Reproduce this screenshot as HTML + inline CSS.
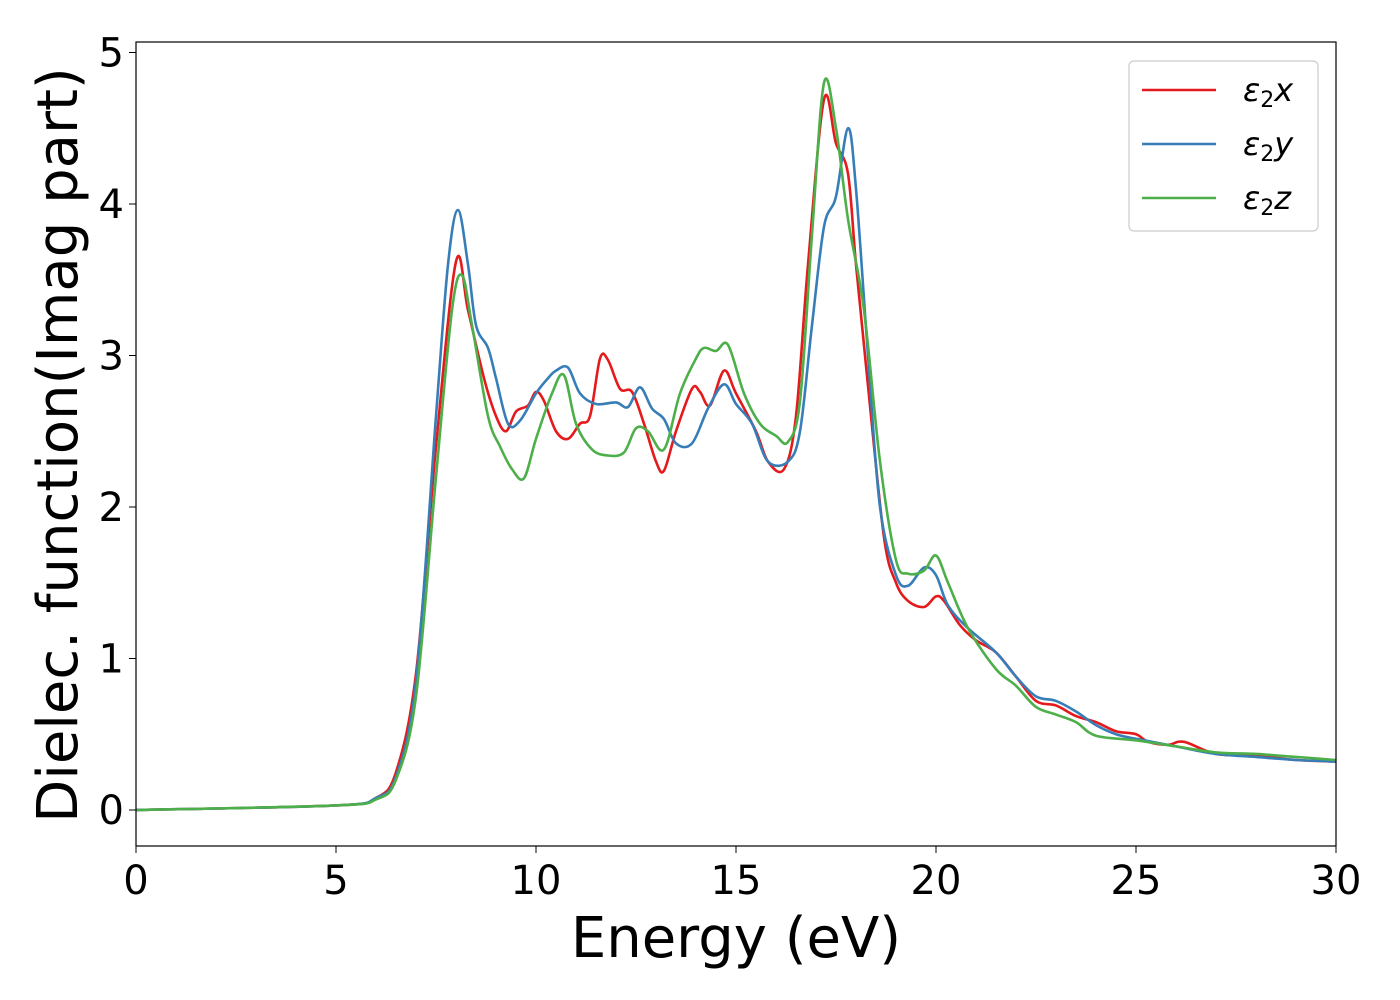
<!DOCTYPE html>
<html><head><meta charset="utf-8"><style>body{margin:0;background:#fff}svg{display:block}text{font-family:"DejaVu Sans","Liberation Sans",sans-serif}</style></head>
<body>
<svg id="chart" width="1400" height="1000" viewBox="0 0 1400 1000" xmlns="http://www.w3.org/2000/svg">
<rect width="1400" height="1000" fill="#fff"/>
<g id="plot"></g>
<rect x="136" y="42" width="1200" height="804" fill="none" stroke="#000" stroke-width="1.2"/>
<g id="ticks"></g>
<text x="736" y="957" font-size="56" text-anchor="middle">Energy (eV)</text>
<text transform="translate(77,445) rotate(-90)" font-size="56" text-anchor="middle">Dielec. function(Imag part)</text>
<g>
<rect x="1129" y="61" width="189" height="170" rx="5" fill="#fff" stroke="#ccc" stroke-width="1.2"/>
<line x1="1142" y1="90" x2="1216" y2="90" stroke="#e41a1c" stroke-width="2.6"/>
<text x="1243" y="101" font-size="32" font-style="italic">ε<tspan font-size="22" dy="6" font-style="normal">2</tspan><tspan dy="-6">x</tspan></text>
<line x1="1142" y1="144" x2="1216" y2="144" stroke="#377eb8" stroke-width="2.6"/>
<text x="1243" y="155" font-size="32" font-style="italic">ε<tspan font-size="22" dy="6" font-style="normal">2</tspan><tspan dy="-6">y</tspan></text>
<line x1="1142" y1="198" x2="1216" y2="198" stroke="#4daf4a" stroke-width="2.6"/>
<text x="1243" y="209" font-size="32" font-style="italic">ε<tspan font-size="22" dy="6" font-style="normal">2</tspan><tspan dy="-6">z</tspan></text>
</g>
</svg>
<script>
const xTicks=[0,5,10,15,20,25,30];
const yTicks=[0,1,2,3,4,5];
const redE=[0,5,6,6.5,7,7.5,8,8.3,8.7,9,9.25,9.5,9.8,10,10.2,10.5,10.8,11.1,11.35,11.6,11.8,12.1,12.4,12.7,13,13.2,13.5,13.9,14.1,14.35,14.7,15,15.5,15.8,16.2,16.5,16.8,17.2,17.5,17.8,18,18.3,18.7,19,19.3,19.7,20,20.2,20.6,21,21.5,22,22.5,23,23.5,24,24.5,25,25.3,25.8,26.2,27,28,29,30];
const redV=[0,0.03,0.08,0.25,0.9,2.4,3.62,3.3,2.85,2.6,2.5,2.63,2.67,2.76,2.7,2.5,2.45,2.55,2.6,2.98,2.97,2.78,2.76,2.55,2.3,2.24,2.5,2.78,2.76,2.67,2.9,2.75,2.5,2.3,2.25,2.6,3.6,4.69,4.4,4.2,3.6,2.8,1.8,1.5,1.38,1.34,1.41,1.38,1.22,1.12,1.04,0.88,0.72,0.69,0.62,0.58,0.52,0.5,0.45,0.43,0.45,0.37,0.36,0.33,0.32];
const blueE=[0,5,6,6.5,7,7.5,7.8,8.05,8.3,8.5,8.8,9,9.3,9.6,10,10.3,10.5,10.8,11.1,11.5,12,12.3,12.6,12.9,13.2,13.5,13.9,14.3,14.7,15,15.4,15.8,16.3,16.6,16.9,17.2,17.5,17.8,18,18.3,18.6,19,19.3,19.7,20,20.3,20.8,21.5,22,22.5,23,23.5,24,24.5,25,26,27,28,29,30];
const blueV=[0,0.03,0.08,0.22,0.85,2.6,3.6,3.96,3.6,3.2,3.05,2.85,2.55,2.57,2.75,2.85,2.9,2.92,2.75,2.68,2.69,2.66,2.79,2.65,2.58,2.42,2.42,2.65,2.81,2.68,2.55,2.3,2.3,2.5,3.2,3.85,4.05,4.5,4.1,3.0,2.0,1.55,1.48,1.6,1.55,1.35,1.2,1.04,0.88,0.75,0.72,0.65,0.56,0.5,0.47,0.42,0.37,0.35,0.33,0.32];
const greenE=[0,5,6,6.5,7,7.5,7.9,8.15,8.4,8.8,9.1,9.4,9.7,10,10.4,10.7,11,11.4,11.8,12.2,12.5,12.8,13.2,13.6,14,14.2,14.5,14.8,15.2,15.6,16,16.3,16.6,16.9,17.2,17.5,17.8,18.2,18.6,19,19.3,19.7,20,20.3,20.8,21.5,22,22.5,23,23.5,24,25,26,27,28,29,30];
const greenV=[0,0.03,0.07,0.2,0.75,2.2,3.3,3.53,3.2,2.6,2.4,2.25,2.19,2.45,2.75,2.87,2.55,2.38,2.34,2.36,2.52,2.5,2.38,2.75,2.98,3.05,3.03,3.07,2.75,2.55,2.47,2.43,2.7,3.8,4.8,4.5,3.9,3.3,2.3,1.65,1.56,1.58,1.68,1.5,1.2,0.93,0.82,0.68,0.63,0.58,0.49,0.46,0.42,0.38,0.37,0.35,0.33];
const sx=e=>136+e*40;
const sy=v=>810-v*151.5;
const NS="http://www.w3.org/2000/svg";
function pathFor(E,V){
  const p=E.map((e,i)=>[sx(e),sy(V[i])]);
  let d="M"+p[0][0]+","+p[0][1];
  for(let i=0;i<p.length-1;i++){
    const a=p[i-1]||p[i],b=p[i],c=p[i+1],n=p[i+2]||c;
    const c1=[b[0]+(c[0]-a[0])/6,b[1]+(c[1]-a[1])/6];
    const c2=[c[0]-(n[0]-b[0])/6,c[1]-(n[1]-b[1])/6];
    d+=" C"+c1+" "+c2+" "+c;
  }
  return d;
}
const plot=document.getElementById("plot");
[[redE,redV,"#e41a1c","series-e2x"],[blueE,blueV,"#377eb8","series-e2y"],[greenE,greenV,"#4daf4a","series-e2z"]].forEach(s=>{
  const el=document.createElementNS(NS,"path");
  el.setAttribute("d",pathFor(s[0],s[1]));
  el.setAttribute("fill","none");el.setAttribute("stroke",s[2]);el.setAttribute("stroke-width","2.6");
  
  
  plot.appendChild(el);
});
const tg=document.getElementById("ticks");
xTicks.forEach(t=>{
  const l=document.createElementNS(NS,"line");
  l.setAttribute("x1",sx(t));l.setAttribute("x2",sx(t));l.setAttribute("y1",846);l.setAttribute("y2",853);l.setAttribute("stroke","#000");
  
  
  tg.appendChild(l);
  const tx=document.createElementNS(NS,"text");
  tx.setAttribute("x",sx(t));tx.setAttribute("y",894);tx.setAttribute("font-size","40");tx.setAttribute("text-anchor","middle");
  tx.textContent=t;
  
  
  tg.appendChild(tx);
});
yTicks.forEach(t=>{
  const l=document.createElementNS(NS,"line");
  l.setAttribute("x1",129);l.setAttribute("x2",136);l.setAttribute("y1",sy(t));l.setAttribute("y2",sy(t));l.setAttribute("stroke","#000");
  
  
  tg.appendChild(l);
  const tx=document.createElementNS(NS,"text");
  tx.setAttribute("x",124);tx.setAttribute("y",sy(t)+14);tx.setAttribute("font-size","40");tx.setAttribute("text-anchor","end");
  tx.textContent=t;
  
  
  tg.appendChild(tx);
});
</script>
</body></html>
